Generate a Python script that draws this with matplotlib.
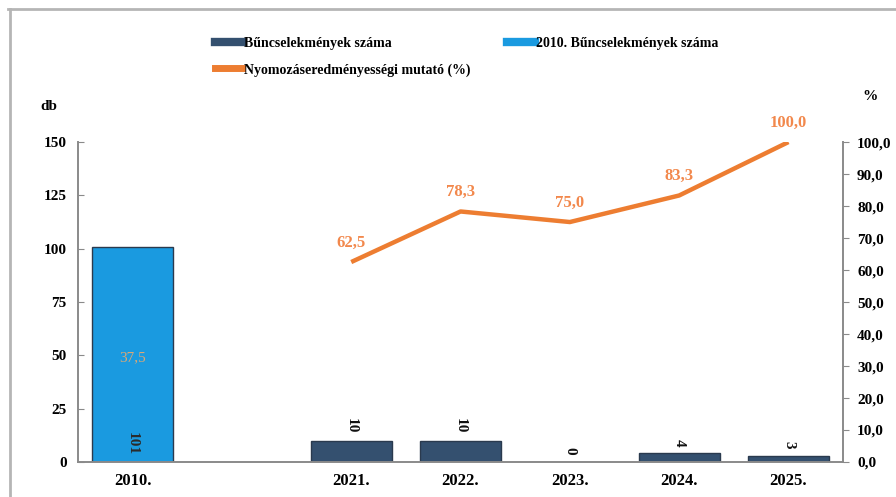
import matplotlib
matplotlib.use('Agg')
import matplotlib.pyplot as plt
from matplotlib.lines import Line2D

plt.rcParams['font.family'] = ['Liberation Serif', 'DejaVu Serif']
plt.rcParams['font.weight'] = 'bold'

# Data
years = ['2010.', '2021.', '2022.', '2023.', '2024.', '2025.']
positions = [0, 2, 3, 4, 5, 6]
crimes = [101, 10, 10, 0, 4, 3]
rate_years_pos = [2, 3, 4, 5, 6]
rate = [62.5, 78.3, 75.0, 83.3, 100.0]
rate_2010 = 37.5

DARK = '#34506f'
LIGHT = '#1a9ae0'
ORANGE = '#ed7d31'
ORANGE_TXT = '#f2884c'
GRAY = '#8a8a8a'

fig = plt.figure(figsize=(8.96, 4.97), dpi=100)
ax = fig.add_axes([0.087, 0.0704, 0.854, 0.6438])
ax2 = ax.twinx()

# Bars
colors = [LIGHT] + [DARK] * 5
ax.bar(positions, crimes, width=0.74, color=colors, edgecolor='#2a3a4e', linewidth=1.0, zorder=2)

for x, v in zip(positions, crimes):
    if x == 0:
        ax.text(x, 3, str(v), rotation=270, ha='center', va='bottom',
                fontsize=11, color='#2b2b2b', zorder=4)
    else:
        ax.annotate(str(v), (x, v), xytext=(0, 5), textcoords='offset points',
                    rotation=270, ha='center', va='bottom', fontsize=11,
                    color='#111111', zorder=4)

# Line on secondary axis
ax2.plot(rate_years_pos, rate, color=ORANGE, lw=3.2, solid_capstyle='butt', zorder=3)
for x, v in zip(rate_years_pos, rate):
    ax2.annotate(f'{v:.1f}'.replace('.', ','), (x, v), xytext=(0, 8),
                 textcoords='offset points', ha='center', va='bottom',
                 fontsize=12, color=ORANGE_TXT)
ax2.annotate(f'{rate_2010:.1f}'.replace('.', ','), (0, rate_2010), xytext=(0, -16),
             textcoords='offset points', ha='center', va='bottom',
             fontsize=11, color='#d9a877', fontweight='normal')

ax.set_xlim(-0.5, 6.5)
ax.set_ylim(0, 150)
ax2.set_ylim(0, 100)
ax.set_yticks([0, 25, 50, 75, 100, 125, 150])
ax2.set_yticks(range(0, 101, 10))
ax2.set_yticklabels([f'{t:.1f}'.replace('.', ',') for t in range(0, 101, 10)])
ax.set_xticks(positions)
ax.set_xticklabels(years, fontsize=12)

for a in (ax, ax2):
    a.set_facecolor('none')
    a.spines['top'].set_visible(False)
    for s in ('left', 'right', 'bottom'):
        a.spines[s].set_color(GRAY)
        a.spines[s].set_linewidth(1.4)
ax.spines['right'].set_visible(False)
ax2.spines['left'].set_visible(False)
ax2.spines['bottom'].set_visible(False)

ax.tick_params(axis='y', direction='in', length=4, color=GRAY, labelsize=11, pad=8)
ax.tick_params(axis='x', length=0, labelsize=12, pad=8)
ax2.tick_params(axis='y', direction='out', length=4, color=GRAY, labelsize=11, pad=6)

fig.text(0.045, 0.785, 'db', fontsize=11, ha='left', va='center')
fig.text(0.962, 0.805, '%', fontsize=11, ha='left', va='center')

# Legend
handles = [
    Line2D([0], [0], color=DARK, lw=6),
    Line2D([0], [0], color=ORANGE, lw=5),
    Line2D([0], [0], color=LIGHT, lw=6),
]
labels = ['Bűncselekmények száma', 'Nyomozáseredményességi mutató (%)',
          '2010. Bűncselekmények száma']
fig.legend(handles, labels, loc='upper left', bbox_to_anchor=(0.2255, 0.951), ncol=2,
           frameon=False, handlelength=2.0, handletextpad=0.1,
           columnspacing=2.65, labelspacing=0.95, prop={'weight': 'bold', 'size': 10})

# Scanned page border
fig.add_artist(Line2D([0.009, 1.0], [0.981, 0.981], color='#b5b5b5', lw=2,
                      transform=fig.transFigure))
fig.add_artist(Line2D([0.011, 0.011], [0.0, 0.981], color='#b5b5b5', lw=2,
                      transform=fig.transFigure))

fig.savefig('out.png', dpi=100)
